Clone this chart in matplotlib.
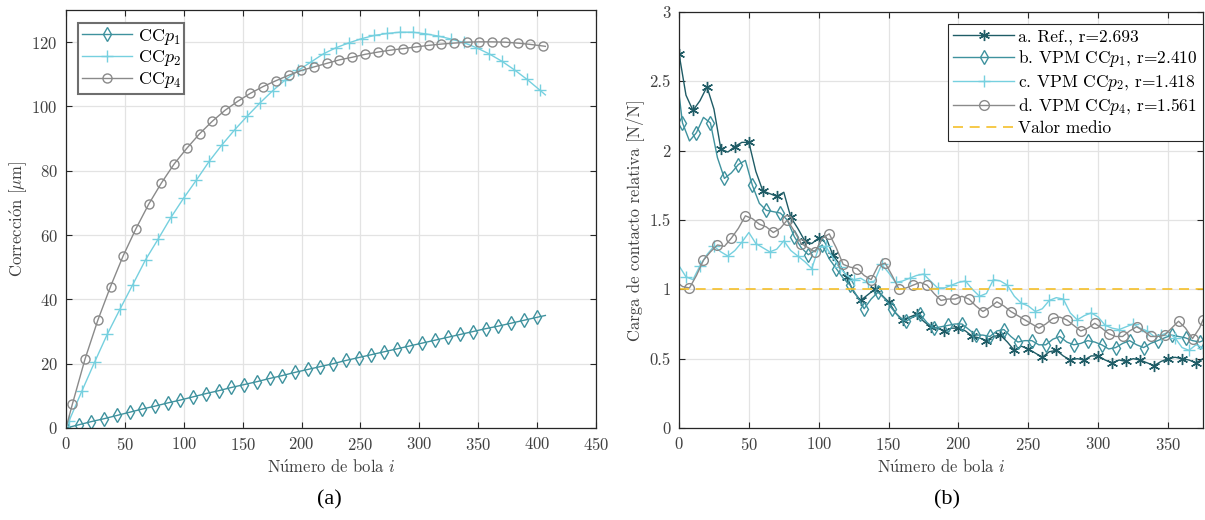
import numpy as np
import matplotlib
matplotlib.use("Agg")
import matplotlib.pyplot as plt

plt.rcParams['font.family'] = ['cmr10', 'DejaVu Serif']
plt.rcParams['mathtext.fontset'] = 'cm'
plt.rcParams['axes.formatter.use_mathtext'] = True
plt.rcParams['axes.unicode_minus'] = False

# ---- (a) correcciones ----
bola_p1 = list(np.round(np.arange(38) * 10.8, 1)) + [407]
bola_p2 = [0] + list(np.round(2.7 + np.arange(38) * 10.8, 1)) + [407]
bola_p4 = [0] + list(np.round(5.4 + np.arange(38) * 10.8, 1)) + [407]

corr_p1 = [0.0, 1.0, 2.0, 2.9, 3.9, 4.9, 5.9, 6.8, 7.8, 8.7, 9.7, 10.7, 11.6,
           12.6, 13.5, 14.4, 15.4, 16.3, 17.3, 18.2, 19.1, 20.0, 21.0, 21.9,
           22.8, 23.7, 24.6, 25.5, 26.4, 27.3, 28.2, 29.1, 30.0, 30.9, 31.7,
           32.6, 33.5, 34.4, 35.0]
corr_p2 = [0.0, 2.3, 11.5, 20.5, 29.2, 37.0, 44.6, 52.3, 58.8, 65.5, 71.5,
           77.1, 82.9, 88.0, 92.7, 97.0, 101.1, 104.9, 108.3, 111.2, 113.8,
           116.4, 118.3, 119.8, 121.1, 122.1, 122.7, 123.1, 123.1, 122.6,
           121.9, 121.0, 119.9, 118.3, 116.4, 114.1, 111.4, 108.4, 105.1, 103.6]
corr_p4 = [0.0, 7.4, 21.5, 33.5, 44.0, 53.6, 62.0, 69.6, 76.2, 82.1, 87.0,
           91.5, 95.4, 98.8, 101.6, 104.1, 106.2, 108.0, 109.7, 111.2, 112.3,
           113.4, 114.5, 115.3, 116.2, 116.9, 117.5, 118.0, 118.5, 119.0,
           119.4, 119.7, 120.0, 120.1, 120.1, 120.0, 119.7, 119.3, 118.8, 118.7]

# ---- (b) carga de contacto relativa ----
bola_ac = list(np.arange(0, 376, 5))
bola_bd = [0] + list(np.arange(2.5, 373, 5)) + [375]

carga_ref = [2.70, 2.40, 2.29, 2.36, 2.46, 2.30, 2.01, 1.99, 2.03, 2.06,
             2.06, 1.85, 1.71, 1.69, 1.67, 1.70, 1.52, 1.44, 1.35, 1.33,
             1.37, 1.38, 1.25, 1.18, 1.09, 0.98, 0.92, 0.96, 1.00, 0.96,
             0.91, 0.83, 0.78, 0.80, 0.82, 0.77, 0.73, 0.72, 0.70, 0.72,
             0.72, 0.70, 0.66, 0.65, 0.63, 0.66, 0.67, 0.62, 0.56, 0.59,
             0.57, 0.54, 0.51, 0.55, 0.56, 0.52, 0.49, 0.50, 0.49, 0.52,
             0.52, 0.49, 0.47, 0.49, 0.48, 0.50, 0.49, 0.47, 0.45, 0.48,
             0.50, 0.51, 0.50, 0.49, 0.47, 0.50]
carga_p1 = [2.41,
            2.20, 2.07, 2.13, 2.24, 2.20, 1.95, 1.80, 1.84, 1.90, 1.93,
            1.75, 1.62, 1.57, 1.56, 1.55, 1.50, 1.38, 1.30, 1.25, 1.28,
            1.32, 1.22, 1.15, 1.08, 1.03, 0.95, 0.86, 0.93, 0.98, 0.93,
            0.86, 0.80, 0.77, 0.80, 0.82, 0.76, 0.72, 0.73, 0.74, 0.75,
            0.75, 0.71, 0.67, 0.67, 0.66, 0.70, 0.71, 0.66, 0.62, 0.63,
            0.63, 0.60, 0.60, 0.64, 0.66, 0.62, 0.60, 0.61, 0.63, 0.62,
            0.60, 0.57, 0.58, 0.61, 0.63, 0.60, 0.58, 0.61, 0.63, 0.65,
            0.67, 0.66, 0.65, 0.63, 0.62,
            0.63]
carga_p2 = [1.17, 1.09, 1.07, 1.17, 1.25, 1.31, 1.27, 1.24, 1.28, 1.34,
            1.41, 1.33, 1.30, 1.27, 1.29, 1.35, 1.28, 1.24, 1.20, 1.15,
            1.30, 1.31, 1.23, 1.16, 1.10, 1.07, 1.08, 1.05, 1.06, 1.18,
            1.12, 1.05, 1.06, 1.08, 1.10, 1.11, 1.06, 1.01, 1.01, 1.03,
            1.05, 1.06, 1.00, 0.95, 0.97, 1.07, 1.06, 1.03, 0.95, 0.90,
            0.88, 0.84, 0.86, 0.92, 0.94, 0.93, 0.83, 0.78, 0.81, 0.83,
            0.80, 0.74, 0.72, 0.71, 0.73, 0.75, 0.72, 0.70, 0.66, 0.67,
            0.69, 0.65, 0.58, 0.56, 0.60, 0.58]
carga_p4 = [1.04,
            1.02, 1.01, 1.10, 1.21, 1.27, 1.32, 1.31, 1.37, 1.44, 1.53,
            1.51, 1.47, 1.45, 1.41, 1.44, 1.50, 1.42, 1.33, 1.30, 1.27,
            1.37, 1.40, 1.30, 1.18, 1.16, 1.15, 1.10, 1.07, 1.17, 1.19,
            1.10, 1.00, 1.01, 1.03, 1.05, 1.03, 0.97, 0.92, 0.93, 0.93,
            0.95, 0.93, 0.88, 0.84, 0.87, 0.91, 0.88, 0.84, 0.81, 0.78,
            0.75, 0.72, 0.75, 0.79, 0.80, 0.78, 0.74, 0.70, 0.72, 0.755,
            0.72, 0.68, 0.66, 0.66, 0.70, 0.73, 0.70, 0.66, 0.66, 0.67,
            0.72, 0.77, 0.72, 0.645, 0.72,
            0.78]
valor_medio = 1.0

labels_a = [r'$\mathrm{CC}p_1$', r'$\mathrm{CC}p_2$', r'$\mathrm{CC}p_4$']
labels_b = [r'a. Ref., r=2.693', r'b. VPM CC$p_1$, r=2.410',
            r'c. VPM CC$p_2$, r=1.418', r'd. VPM CC$p_4$, r=1.561',
            'Valor medio']

c_ref = '#1f5c66'
c_p1 = '#3f929e'
c_p2 = '#76d0df'
c_p4 = '#8a8a8a'
c_mean = '#f5c02a'
edge = '#262626'

fig = plt.figure(figsize=(12.05, 5.2), dpi=100)
ax1 = fig.add_axes([66 / 1205, 1 - 428 / 520, 530 / 1205, 418 / 520])
ax2 = fig.add_axes([679 / 1205, 1 - 428 / 520, 524 / 1205, 416 / 520])

ax1.plot(bola_p1, corr_p1, color=c_p1, lw=1, marker='d', ms=7, mfc='none',
         mew=1, markevery=list(range(38)), label=labels_a[0])
ax1.plot(bola_p2, corr_p2, color=c_p2, lw=1, marker='+', ms=8, mew=1,
         markevery=list(range(1, 39)), label=labels_a[1])
ax1.plot(bola_p4, corr_p4, color=c_p4, lw=1, marker='o', ms=6.5, mfc='none',
         mew=1, markevery=list(range(1, 39)), label=labels_a[2])
ax1.set_xlim(0, 450)
ax1.set_ylim(0, 130)
ax1.set_xticks(np.arange(0, 451, 50))
ax1.set_yticks(np.arange(0, 121, 20))
ax1.set_xlabel(r'N$\acute{\mathrm{u}}$mero de bola $i$', fontsize=12, color='#404040')
ax1.set_ylabel(r'Correcci$\acute{\mathrm{o}}$n [$\mu$m]', fontsize=12,
               color='#404040', labelpad=1)
leg1 = ax1.legend(loc='upper left', bbox_to_anchor=(12 / 530, 1 - 13 / 418),
                  fontsize=13, handlelength=2.8, fancybox=False,
                  framealpha=1, borderaxespad=0, labelspacing=0.1,
                  handletextpad=0.3, borderpad=0.2)
leg1.get_frame().set_edgecolor('#6e6e6e')
leg1.get_frame().set_linewidth(1.5)

ax2.plot(bola_ac, carga_ref, color=c_ref, lw=1, marker=(6, 2, 0), ms=8,
         mew=1.0, markevery=slice(0, None, 2), label=labels_b[0])
ax2.plot(bola_bd, carga_p1, color=c_p1, lw=1, marker='d', ms=7.5, mfc='none',
         mew=1, markevery=slice(1, None, 2), label=labels_b[1])
ax2.plot(bola_ac, carga_p2, color=c_p2, lw=1, marker='+', ms=9, mew=1,
         markevery=slice(1, None, 2), label=labels_b[2])
ax2.plot(bola_bd, carga_p4, color=c_p4, lw=1, marker='o', ms=7, mfc='none',
         mew=1, markevery=slice(2, None, 2), label=labels_b[3])
ax2.axhline(valor_medio, color=c_mean, lw=1.2, ls=(0, (6, 4)), label=labels_b[4])
ax2.set_xlim(0, 375)
ax2.set_ylim(0, 3)
ax2.set_xticks(np.arange(0, 351, 50))
ax2.set_yticks(np.arange(0, 3.01, 0.5))
ax2.set_yticklabels(['0', '0.5', '1', '1.5', '2', '2.5', '3'])
ax2.set_xlabel(r'N$\acute{\mathrm{u}}$mero de bola $i$', fontsize=12, color='#404040')
ax2.set_ylabel('Carga de contacto relativa [N/N]', fontsize=12, color='#404040')
leg2 = ax2.legend(loc='upper right', bbox_to_anchor=(1.0, 1 - 12 / 416),
                  fontsize=12.5, handlelength=3.5, fancybox=False,
                  framealpha=1, borderaxespad=0, labelspacing=0.2,
                  handletextpad=0.25, borderpad=0.3)
leg2.get_frame().set_edgecolor('#262626')
leg2.get_frame().set_linewidth(0.8)

for ax in (ax1, ax2):
    ax.grid(True, color='#e3e3e3', lw=0.9)
    ax.set_axisbelow(True)
    ax.tick_params(direction='in', top=True, right=True, length=4,
                   color=edge, labelsize=12, labelcolor='#404040', pad=6)
    for s in ax.spines.values():
        s.set_color(edge)
        s.set_linewidth(0.9)

fig.text(329 / 1205, 1 - 500 / 520, '(a)', fontsize=16,
         family='Liberation Serif', ha='center', va='center')
fig.text(947 / 1205, 1 - 500 / 520, '(b)', fontsize=16,
         family='Liberation Serif', ha='center', va='center')

fig.savefig('out.png', dpi=100)
